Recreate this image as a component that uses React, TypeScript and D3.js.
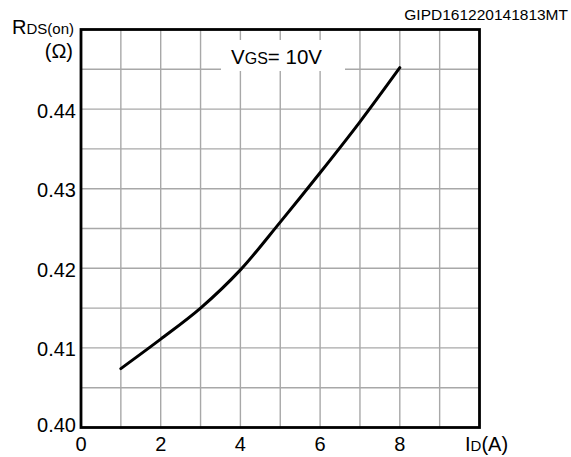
import { useEffect, useRef } from 'react';
import * as d3 from 'd3';

// ID (A) vs RDS(on) (Ω), VGS = 10V
const currentA = [1, 2, 3, 4, 5, 6, 7, 8];
const rdsOhm = [0.4074, 0.4111, 0.4150, 0.4198, 0.4258, 0.4320, 0.4384, 0.4452];

const xTicks = [0, 2, 4, 6, 8];
const yTicks = [0.40, 0.41, 0.42, 0.43, 0.44];
const xGrid = [1, 2, 3, 4, 5, 6, 7, 8, 9];
const yGrid = [0.405, 0.41, 0.415, 0.42, 0.425, 0.43, 0.435, 0.44, 0.445];

const FONT = '"Liberation Sans", Arial, Helvetica, sans-serif';

export default function App() {
  const svgRef = useRef<SVGSVGElement>(null);

  useEffect(() => {
    const el = svgRef.current;
    if (!el) return;
    d3.select(el).selectAll('*').remove();

    const W = 571;
    const H = 457;
    const left = 81, right = 479.5, top = 29.5, bottom = 427.5;

    const svg = d3.select(el).attr('width', W).attr('height', H);

    const x = d3.scaleLinear().domain([0, 10]).range([left, right]);
    const y = d3.scaleLinear().domain([0.40, 0.45]).range([bottom, top]);

    // grid
    const grid = svg.append('g').attr('stroke', '#a8a8a8').attr('stroke-width', 1.4);
    xGrid.forEach(v => {
      grid.append('line')
        .attr('x1', x(v)).attr('x2', x(v))
        .attr('y1', top).attr('y2', bottom);
    });
    yGrid.forEach(v => {
      grid.append('line')
        .attr('x1', left).attr('x2', right)
        .attr('y1', y(v)).attr('y2', y(v));
    });

    // label box that hides the grid
    svg.append('rect')
      .attr('x', 221).attr('y', 40)
      .attr('width', 124).attr('height', 31)
      .attr('fill', '#fff');

    const vgs = svg.append('text')
      .attr('x', 231).attr('y', 64)
      .style('font-family', FONT)
      .style('font-size', '20.5px')
      .attr('fill', '#000');
    vgs.append('tspan').text('V');
    vgs.append('tspan').style('font-size', '16px').text('GS');
    vgs.append('tspan').text('= 10V');

    // curve
    const line = d3.line<number>()
      .x((_, i) => x(currentA[i]))
      .y(d => y(d))
      .curve(d3.curveCatmullRom.alpha(0.5));

    svg.append('path')
      .datum(rdsOhm)
      .attr('fill', 'none')
      .attr('stroke', '#000')
      .attr('stroke-width', 3)
      .attr('stroke-linecap', 'round')
      .attr('d', line);

    // frame
    svg.append('rect')
      .attr('x', left).attr('y', top)
      .attr('width', right - left).attr('height', bottom - top)
      .attr('fill', 'none')
      .attr('stroke', '#000')
      .attr('stroke-width', 2.8);

    // tick labels
    xTicks.forEach(v => {
      svg.append('text')
        .attr('x', x(v)).attr('y', 450.5)
        .attr('text-anchor', 'middle')
        .style('font-family', FONT)
        .style('font-size', '20px')
        .text(String(v));
    });
    yTicks.forEach(v => {
      svg.append('text')
        .attr('x', left - 5)
        .attr('y', y(v) + (v === 0.40 ? 4 : 8.5))
        .attr('text-anchor', 'end')
        .style('font-family', FONT)
        .style('font-size', '20px')
        .text(v.toFixed(2));
    });

    // axis titles
    const yt = svg.append('text')
      .attr('x', 74).attr('y', 34)
      .attr('text-anchor', 'end')
      .style('font-family', FONT)
      .style('font-size', '20px');
    yt.append('tspan').text('R');
    yt.append('tspan').style('font-size', '15px').text('DS(on)');

    svg.append('text')
      .attr('x', 73).attr('y', 58)
      .attr('text-anchor', 'end')
      .style('font-family', FONT)
      .style('font-size', '20px')
      .text('(Ω)');

    const xt = svg.append('text')
      .attr('x', 465).attr('y', 451)
      .style('font-family', FONT)
      .style('font-size', '20px');
    xt.append('tspan').text('I');
    xt.append('tspan').style('font-size', '15px').text('D');
    xt.append('tspan').text('(A)');

    svg.append('text')
      .attr('x', 568).attr('y', 20)
      .attr('text-anchor', 'end')
      .style('font-family', FONT)
      .style('font-size', '15.5px')
      .text('GIPD161220141813MT');
  }, []);

  return (
    <svg ref={svgRef} style={{ position: 'absolute', left: 0, top: 0, display: 'block', background: '#fff' }} />
  );
}
